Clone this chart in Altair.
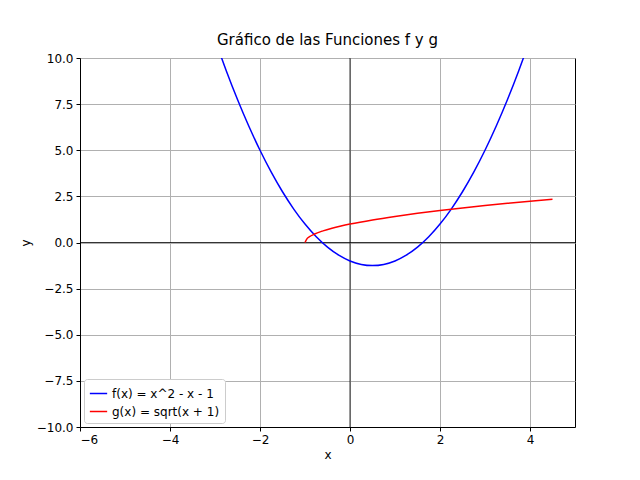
import altair as alt
import pandas as pd

# f(x) = x^2 - x - 1
f_x = [-3, -2.75, -2.5, -2.25, -2, -1.75, -1.5, -1.25, -1, -0.75, -0.5, -0.25, 0,
       0.25, 0.5, 0.75, 1, 1.25, 1.5, 1.75, 2, 2.25, 2.5, 2.75, 3, 3.25, 3.5, 3.75, 4]
f_y = [11, 9.3125, 7.75, 6.3125, 5, 3.8125, 2.75, 1.8125, 1, 0.3125, -0.25, -0.6875, -1,
       -1.1875, -1.25, -1.1875, -1, -0.6875, -0.25, 0.3125, 1, 1.8125, 2.75, 3.8125, 5,
       6.3125, 7.75, 9.3125, 11]

# g(x) = sqrt(x + 1)
g_x = [-1, -0.95, -0.9, -0.8, -0.6, -0.4, -0.2, 0, 0.5, 1, 1.5, 2, 2.5, 3, 3.5, 4, 4.5]
g_y = [0.0, 0.224, 0.316, 0.447, 0.632, 0.775, 0.894, 1.0, 1.225, 1.414, 1.581, 1.732,
       1.871, 2.0, 2.121, 2.236, 2.345]

f_label = "f(x) = x^2 - x - 1"
g_label = "g(x) = sqrt(x + 1)"

df = pd.concat([
    pd.DataFrame({"x": f_x, "y": f_y, "serie": f_label, "o": range(len(f_x))}),
    pd.DataFrame({"x": g_x, "y": g_y, "serie": g_label, "o": range(len(g_x))}),
])

xs = alt.Scale(domain=[-6, 5], nice=False, zero=False)
ys = alt.Scale(domain=[-10, 10], nice=False)

lines = alt.Chart(df).mark_line(clip=True, strokeWidth=1.5, interpolate="monotone").encode(
    x=alt.X("x:Q", scale=xs, title="x",
            axis=alt.Axis(values=[-6, -4, -2, 0, 2, 4], grid=True, gridColor="#b0b0b0",
                          domainColor="black", tickColor="black", labelColor="black")),
    y=alt.Y("y:Q", scale=ys, title="y",
            axis=alt.Axis(values=[-10, -7.5, -5, -2.5, 0, 2.5, 5, 7.5, 10], format=".1f",
                          grid=True, gridColor="#b0b0b0", domainColor="black",
                          tickColor="black", labelColor="black")),
    color=alt.Color("serie:N", scale=alt.Scale(domain=[f_label, g_label], range=["blue", "red"]),
                    legend=alt.Legend(title=None, orient="bottom-left", symbolType="stroke",
                                      symbolStrokeWidth=1.5, symbolSize=300, fillColor="white",
                                      strokeColor="#cccccc", padding=5, cornerRadius=3,
                                      offset=4, labelFontSize=12, labelColor="black")),
    detail="serie:N",
    order="o:Q",
)

zero = pd.DataFrame({"v": [0]})
hline = alt.Chart(zero).mark_rule(color="black", strokeWidth=0.8).encode(y=alt.Y("v:Q", scale=ys))
vline = alt.Chart(zero).mark_rule(color="black", strokeWidth=0.8).encode(x=alt.X("v:Q", scale=xs))

chart = alt.layer(hline, vline, lines).properties(
    width=495, height=369,
    title=alt.Title("Gráfico de las Funciones f y g", fontSize=15, fontWeight="normal", offset=4),
    autosize=alt.AutoSizeParams(type="none"),
    padding={"left": 72, "top": 50, "right": 57, "bottom": 45},
).configure(font="DejaVu Sans").configure_axis(
    labelFontSize=12, titleFontSize=12, titleFontWeight="normal", tickSize=4,
    labelPadding=3, titleColor="black"
).configure_view(stroke="black")

chart.save("out.html", embed_options={"renderer": "svg", "actions": False})
